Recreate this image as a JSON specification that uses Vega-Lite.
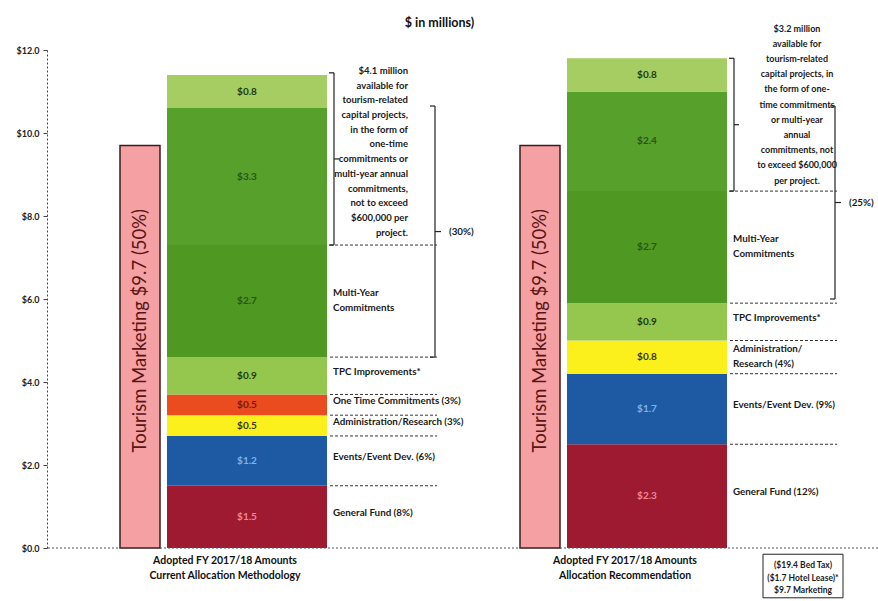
{
  "$schema": "https://vega.github.io/schema/vega-lite/v6.json",
  "width": 831,
  "height": 498,
  "autosize": {"type": "none"},
  "padding": {"left": 47, "top": 50, "right": 0, "bottom": 53},
  "background": "white",
  "config": {"view": {"stroke": null}, "font": "Lato"},
  "title": {"text": "$ in millions)", "font": "Lato", "fontSize": 12.5, "fontWeight": "bold", "color": "#111", "anchor": "middle", "dx": -23, "offset": -5},
  "datasets": {
    "marketing": [
      {"group": "Current", "label": "Tourism Marketing $9.7 (50%)", "value": 9.7},
      {"group": "Recommendation", "label": "Tourism Marketing $9.7 (50%)", "value": 9.7}
    ],
    "segments": [
      {"group": "Current", "cat": "General Fund", "order": 1, "value": 1.5, "label": "$1.5", "note": "General Fund (8%)"},
      {"group": "Current", "cat": "Events", "order": 2, "value": 1.2, "label": "$1.2", "note": "Events/Event Dev. (6%)"},
      {"group": "Current", "cat": "Admin", "order": 3, "value": 0.5, "label": "$0.5", "note": "Administration/Research (3%)"},
      {"group": "Current", "cat": "One Time", "order": 4, "value": 0.5, "label": "$0.5", "note": "One Time Commitments (3%)"},
      {"group": "Current", "cat": "TPC", "order": 5, "value": 0.9, "label": "$0.9", "note": "TPC Improvements*"},
      {"group": "Current", "cat": "Multi-Year", "order": 6, "value": 2.7, "label": "$2.7", "note": "Multi-Year\nCommitments"},
      {"group": "Current", "cat": "Capital", "order": 7, "value": 3.3, "label": "$3.3", "note": ""},
      {"group": "Current", "cat": "Top", "order": 8, "value": 0.8, "label": "$0.8", "note": ""},
      {"group": "Recommendation", "cat": "General Fund", "order": 1, "value": 2.5, "label": "$2.3", "note": "General Fund (12%)"},
      {"group": "Recommendation", "cat": "Events", "order": 2, "value": 1.7, "label": "$1.7", "note": "Events/Event Dev. (9%)"},
      {"group": "Recommendation", "cat": "Admin", "order": 3, "value": 0.8, "label": "$0.8", "note": "Administration/\nResearch (4%)"},
      {"group": "Recommendation", "cat": "TPC", "order": 5, "value": 0.9, "label": "$0.9", "note": "TPC Improvements*"},
      {"group": "Recommendation", "cat": "Multi-Year", "order": 6, "value": 2.7, "label": "$2.7", "note": "Multi-Year\nCommitments"},
      {"group": "Recommendation", "cat": "Capital", "order": 7, "value": 2.4, "label": "$2.4", "note": ""},
      {"group": "Recommendation", "cat": "Top", "order": 8, "value": 0.8, "label": "$0.8", "note": ""}
    ],
    "brackets": [
      {"group": "Current", "kind": "inner", "lo": 7.3, "hi": 11.45, "note": "$4.1 million\navailable for\ntourism-related\ncapital projects,\nin the form of\none-time\ncommitments or\nmulti-year annual\ncommitments,\nnot to exceed\n$600,000 per\nproject."},
      {"group": "Current", "kind": "outer", "lo": 4.6, "hi": 10.65, "note": "(30%)"},
      {"group": "Recommendation", "kind": "inner", "lo": 8.6, "hi": 11.8, "note": "$3.2 million\navailable for\ntourism-related\ncapital projects, in\nthe form of one-\ntime commitments\nor multi-year\nannual\ncommitments, not\nto exceed $600,000\nper project."},
      {"group": "Recommendation", "kind": "outer", "lo": 6.0, "hi": 10.65, "note": "(25%)"}
    ],
    "source": [
      {"group": "Recommendation", "note": "($19.4 Bed Tax)\n($1.7 Hotel Lease)*\n$9.7 Marketing"}
    ]
  },
  "resolve": {"scale": {"x": "independent"}},
  "layer": [
    {
      "data": {"name": "marketing"},
      "layer": [
        {
          "mark": {"type": "bar", "fill": "#f5a1a4", "stroke": "#3a1c1c", "strokeWidth": 1.5},
          "encoding": {
            "x": {"field": "group", "type": "nominal", "scale": {"domain": ["Current", "Recommendation"], "range": [73, 513], "paddingInner": 0.9, "paddingOuter": 0}, "axis": null},
            "y": {"field": "value", "type": "quantitative", "scale": {"domain": [0, 12], "nice": false},
              "axis": {"title": null, "values": [0, 2, 4, 6, 8, 10, 12], "format": "$.1f", "labelFont": "Lato", "labelFontSize": 9, "labelFontWeight": "bold", "labelColor": "#222", "domainDash": [2, 2], "domainColor": "#444", "tickColor": "#444", "tickSize": 4, "grid": false, "labelPadding": 4}}
          }
        },
        {
          "transform": [{"calculate": "datum.value / 2", "as": "mid"}],
          "mark": {"type": "text", "angle": 270, "font": "Lato", "fontSize": 18.5, "color": "#5a1515", "dx": 16, "align": "center", "baseline": "middle"},
          "encoding": {
            "x": {"field": "group", "type": "nominal", "bandPosition": 0.5, "scale": {"domain": ["Current", "Recommendation"], "range": [73, 513], "paddingInner": 0.9, "paddingOuter": 0}, "axis": null},
            "y": {"field": "mid", "type": "quantitative", "scale": {"domain": [0, 12], "nice": false}},
            "text": {"field": "label"}
          }
        }
      ]
    },
    {
      "layer": [
        {
          "data": {"name": "segments"},
          "transform": [
            {"stack": "value", "groupby": ["group"], "sort": [{"field": "order", "order": "ascending"}], "as": ["y0", "y1"]},
            {"calculate": "(datum.y0 + datum.y1) / 2", "as": "mid"},
            {"calculate": "indexof(datum.note, '\\n') >= 0", "as": "multi"}
          ],
          "layer": [
            {
              "mark": {"type": "bar"},
              "encoding": {
                "x": {"field": "group", "type": "nominal", "scale": {"domain": ["Current", "Recommendation"], "range": [120, 680], "paddingInner": 0.6, "paddingOuter": 0},
                  "axis": {"title": null, "domain": false, "ticks": false, "labelAngle": 0, "labelExpr": "datum.value == 'Current' ? ['Adopted FY 2017/18 Amounts', 'Current Allocation Methodology'] : ['Adopted FY 2017/18 Amounts', 'Allocation Recommendation']", "labelFont": "Lato", "labelFontSize": 10.5, "labelFontWeight": "bold", "labelColor": "#111", "labelOffset": -22, "labelPadding": 7, "labelLineHeight": 15}},
                "y": {"field": "y1", "type": "quantitative", "scale": {"domain": [0, 12], "nice": false}},
                "y2": {"field": "y0"},
                "fill": {"field": "cat", "type": "nominal", "legend": null,
                  "scale": {"domain": ["General Fund", "Events", "Admin", "One Time", "TPC", "Multi-Year", "Capital", "Top"],
                    "range": ["#9d1a30", "#1d5aa3", "#fbf01c", "#ea4b1f", "#95c64d", "#4f9822", "#56a02b", "#a6cd61"]}}
              }
            },
            {
              "mark": {"type": "text", "font": "Lato", "fontSize": 10, "fontWeight": "bold", "align": "center", "baseline": "middle"},
              "encoding": {
                "x": {"field": "group", "type": "nominal", "bandPosition": 0.5},
                "y": {"field": "mid", "type": "quantitative", "scale": {"domain": [0, 12], "nice": false}},
                "text": {"field": "label"},
                "color": {"field": "cat", "type": "nominal", "legend": null,
                  "scale": {"domain": ["General Fund", "Events", "Admin", "One Time", "TPC", "Multi-Year", "Capital", "Top"],
                    "range": ["#f08898", "#7ab4ea", "#3a3400", "#7a1508", "#1d3b0a", "#2b5512", "#2b5512", "#1d3b0a"]}}
              }
            },
            {
              "transform": [{"filter": "datum.note != '' && !datum.multi"}],
              "mark": {"type": "text", "font": "Lato", "fontSize": 9.8, "fontWeight": "bold", "color": "#1a1a1a", "align": "left", "baseline": "middle", "dx": 6, "dy": -4},
              "encoding": {
                "x": {"field": "group", "type": "nominal", "bandPosition": 1},
                "y": {"field": "mid", "type": "quantitative", "scale": {"domain": [0, 12], "nice": false}},
                "text": {"field": "note"}
              }
            },
            {
              "transform": [{"filter": "datum.multi"}],
              "mark": {"type": "text", "font": "Lato", "fontSize": 9.8, "fontWeight": "bold", "color": "#1a1a1a", "align": "left", "baseline": "middle", "dx": 6, "dy": -8, "lineBreak": "\n", "lineHeight": 15},
              "encoding": {
                "x": {"field": "group", "type": "nominal", "bandPosition": 1},
                "y": {"field": "mid", "type": "quantitative", "scale": {"domain": [0, 12], "nice": false}},
                "text": {"field": "note"}
              }
            },
            {
              "transform": [{"filter": "datum.note != ''"}],
              "mark": {"type": "rule", "color": "#333", "strokeWidth": 1, "strokeDash": [3, 2], "xOffset": 3, "x2Offset": 110},
              "encoding": {
                "x": {"field": "group", "type": "nominal", "bandPosition": 1},
                "x2": {"field": "group", "bandPosition": 1},
                "y": {"field": "y1", "type": "quantitative", "scale": {"domain": [0, 12], "nice": false}}
              }
            }
          ]
        },
        {
          "data": {"name": "brackets"},
          "transform": [{"calculate": "(datum.lo + datum.hi) / 2", "as": "mid"}],
          "layer": [
            {
              "transform": [{"filter": "datum.kind == 'inner'"}],
              "mark": {"type": "rule", "color": "#222", "strokeWidth": 1.2, "xOffset": 7},
              "encoding": {
                "x": {"field": "group", "type": "nominal", "bandPosition": 1},
                "y": {"field": "lo", "type": "quantitative", "scale": {"domain": [0, 12], "nice": false}},
                "y2": {"field": "hi"}
              }
            },
            {
              "transform": [{"filter": "datum.kind == 'inner'"}, {"fold": ["lo", "hi"], "as": ["end", "v"]}],
              "mark": {"type": "rule", "color": "#222", "strokeWidth": 1.2, "xOffset": 2, "x2Offset": 7},
              "encoding": {
                "x": {"field": "group", "type": "nominal", "bandPosition": 1},
                "x2": {"field": "group", "bandPosition": 1},
                "y": {"field": "v", "type": "quantitative", "scale": {"domain": [0, 12], "nice": false}}
              }
            },
            {
              "transform": [{"filter": "datum.kind == 'inner'"}],
              "mark": {"type": "rule", "color": "#222", "strokeWidth": 1.2, "xOffset": 7, "x2Offset": 12},
              "encoding": {
                "x": {"field": "group", "type": "nominal", "bandPosition": 1},
                "x2": {"field": "group", "bandPosition": 1},
                "y": {"field": "mid", "type": "quantitative", "scale": {"domain": [0, 12], "nice": false}}
              }
            },
            {
              "transform": [{"filter": "datum.kind == 'outer'"}],
              "mark": {"type": "rule", "color": "#222", "strokeWidth": 1.2, "xOffset": 108},
              "encoding": {
                "x": {"field": "group", "type": "nominal", "bandPosition": 1},
                "y": {"field": "lo", "type": "quantitative", "scale": {"domain": [0, 12], "nice": false}},
                "y2": {"field": "hi"}
              }
            },
            {
              "transform": [{"filter": "datum.kind == 'outer'"}, {"fold": ["lo", "hi"], "as": ["end", "v"]}],
              "mark": {"type": "rule", "color": "#222", "strokeWidth": 1.2, "xOffset": 103, "x2Offset": 108},
              "encoding": {
                "x": {"field": "group", "type": "nominal", "bandPosition": 1},
                "x2": {"field": "group", "bandPosition": 1},
                "y": {"field": "v", "type": "quantitative", "scale": {"domain": [0, 12], "nice": false}}
              }
            },
            {
              "transform": [{"filter": "datum.kind == 'outer'"}],
              "mark": {"type": "rule", "color": "#222", "strokeWidth": 1.2, "xOffset": 108, "x2Offset": 114},
              "encoding": {
                "x": {"field": "group", "type": "nominal", "bandPosition": 1},
                "x2": {"field": "group", "bandPosition": 1},
                "y": {"field": "mid", "type": "quantitative", "scale": {"domain": [0, 12], "nice": false}}
              }
            },
            {
              "transform": [{"filter": "datum.kind == 'outer'"}],
              "mark": {"type": "text", "font": "Lato", "fontSize": 9.8, "fontWeight": "bold", "color": "#1a1a1a", "align": "left", "baseline": "middle", "dx": 122},
              "encoding": {
                "x": {"field": "group", "type": "nominal", "bandPosition": 1},
                "y": {"field": "mid", "type": "quantitative", "scale": {"domain": [0, 12], "nice": false}},
                "text": {"field": "note"}
              }
            },
            {
              "transform": [{"filter": "datum.kind == 'inner' && datum.group == 'Current'"}],
              "mark": {"type": "text", "font": "Lato", "fontSize": 9.5, "fontWeight": "bold", "color": "#1a1a1a", "align": "right", "baseline": "middle", "dx": 81, "dy": -88, "lineBreak": "\n", "lineHeight": 14.7},
              "encoding": {
                "x": {"field": "group", "type": "nominal", "bandPosition": 1},
                "y": {"field": "mid", "type": "quantitative", "scale": {"domain": [0, 12], "nice": false}},
                "text": {"field": "note"}
              }
            },
            {
              "transform": [{"filter": "datum.kind == 'inner' && datum.group == 'Recommendation'"}],
              "mark": {"type": "text", "font": "Lato", "fontSize": 9, "fontWeight": "bold", "color": "#1a1a1a", "align": "center", "baseline": "middle", "dx": 70, "dy": -96, "lineBreak": "\n", "lineHeight": 15.2},
              "encoding": {
                "x": {"field": "group", "type": "nominal", "bandPosition": 1},
                "y": {"field": "mid", "type": "quantitative", "scale": {"domain": [0, 12], "nice": false}},
                "text": {"field": "note"}
              }
            }
          ]
        },
        {
          "data": {"name": "source"},
          "layer": [
            {
              "mark": {"type": "rect", "fill": "white", "stroke": "#222", "strokeWidth": 1, "xOffset": 36, "x2Offset": 116},
              "encoding": {
                "x": {"field": "group", "type": "nominal", "bandPosition": 1},
                "x2": {"field": "group", "bandPosition": 1},
                "y": {"datum": -0.15, "type": "quantitative", "scale": {"domain": [0, 12], "nice": false}},
                "y2": {"datum": -1.2}
              }
            },
            {
              "mark": {"type": "text", "font": "Lato", "fontSize": 8.5, "fontWeight": "bold", "color": "#1a1a1a", "align": "center", "baseline": "middle", "dx": 76, "dy": -11, "lineBreak": "\n", "lineHeight": 12.5},
              "encoding": {
                "x": {"field": "group", "type": "nominal", "bandPosition": 1},
                "y": {"datum": -0.68, "type": "quantitative", "scale": {"domain": [0, 12], "nice": false}},
                "text": {"field": "note"}
              }
            }
          ]
        }
      ]
    },
    {
      "mark": {"type": "rule", "color": "#555", "strokeWidth": 1, "strokeDash": [2, 2]},
      "encoding": {"y": {"datum": 0, "type": "quantitative", "scale": {"domain": [0, 12], "nice": false}}}
    }
  ]
}
